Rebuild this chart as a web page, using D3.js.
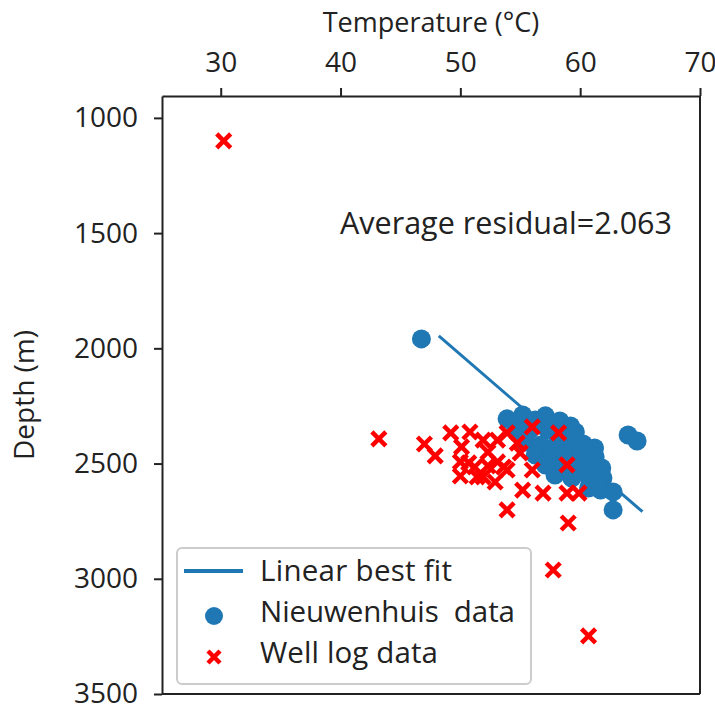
<!DOCTYPE html>
<html>
<head>
<meta charset="utf-8">
<script src="https://cdn.jsdelivr.net/npm/d3@7"></script>
<style>
  body { margin: 0; background: #fff; }
  svg text { font-family: "Open Sans", sans-serif; fill: #222; }
</style>
</head>
<body>
<svg id="chart" width="715" height="706"></svg>
<script>
// Nieuwenhuis data (temperature degC, depth m)
const nieuTemp = [46.75, 53.9, 55.2, 56.25, 57.1, 58.3, 59.2, 59.6, 54.6, 55.8, 57.3, 58.5,
  55.4, 56.7, 58.0, 59.2, 60.25, 61.2, 56.25, 57.5, 58.75, 60.0, 61.25, 57.1, 58.3, 59.8,
  61.0, 61.8, 57.9, 59.3, 60.8, 61.9, 60.7, 61.7, 62.75, 62.75, 64.0, 64.75, 61.5];
const nieuDepth = [1959, 2306, 2289, 2311, 2293, 2315, 2337, 2363, 2354, 2354, 2354, 2380,
  2406, 2419, 2419, 2419, 2415, 2432, 2463, 2476, 2463, 2463, 2471, 2506, 2519, 2519,
  2519, 2519, 2550, 2563, 2571, 2563, 2606, 2615, 2623, 2701, 2376, 2402, 2602];

// Well log data
const wellTemp = [30.25, 43.2, 47.0, 47.9, 49.2, 50.1, 50.0, 50.7, 51.2, 51.4, 51.9, 52.3,
  53.1, 52.9, 53.9, 53.9, 54.75, 55.0, 56.0, 56.0, 55.2, 56.9, 53.9, 58.2, 58.9, 58.9,
  59.9, 59.0, 57.75, 60.7, 51.9, 53.6, 50.8, 50.0, 53.1, 52.3];
const wellDepth = [1100, 2393, 2415, 2467, 2367, 2428, 2554, 2497, 2515, 2558, 2398, 2450,
  2398, 2580, 2367, 2528, 2411, 2454, 2341, 2528, 2615, 2628, 2701, 2367, 2506, 2628,
  2628, 2758, 2962, 3248, 2558, 2515, 2363, 2493, 2493, 2510];

// linear best fit end points
const fitTemp = [48.2, 65.2];
const fitDepth = [1946, 2709];

const xTicks = [30, 40, 50, 60, 70];
const yTicks = [1000, 1500, 2000, 2500, 3000, 3500];
const residual = "Average residual=2.063";

const blue = "#1f77b4";
const svg = d3.select("#chart");
const plotL = 162, plotR = 700, plotT = 96, plotB = 694;

const x = d3.scaleLinear().domain([25.1, 70]).range([plotL, plotR]);
const y = d3.scaleLinear().domain([905, 3500]).range([plotT, plotB]);

// fit line
svg.append("path")
    .datum(d3.zip(fitTemp, fitDepth))
    .attr("fill", "none")
    .attr("stroke", blue)
    .attr("stroke-width", 3)
    .attr("d", d3.line().x(d => x(d[0])).y(d => y(d[1])));

// circles
svg.append("g")
  .selectAll("circle")
  .data(d3.zip(nieuTemp, nieuDepth))
  .join("circle")
    .attr("cx", d => x(d[0]))
    .attr("cy", d => y(d[1]))
    .attr("r", 9.5)
    .attr("fill", blue);

// crosses
const cross = (g, s) => g.append("path")
    .attr("d", `M${-s},${-s}L${s},${s}M${-s},${s}L${s},${-s}`)
    .attr("stroke", "red")
    .attr("stroke-width", 4.5)
    .attr("fill", "none");

svg.append("g")
  .selectAll("g")
  .data(d3.zip(wellTemp, wellDepth))
  .join("g")
    .attr("transform", d => `translate(${x(d[0])},${y(d[1])})`)
    .each(function() { cross(d3.select(this), 7); });

// axes
const xAxis = svg.append("g")
    .attr("transform", `translate(0,${plotT})`)
    .call(d3.axisTop(x).tickValues(xTicks).tickFormat(d3.format("d"))
      .tickSize(8).tickPadding(16).tickSizeOuter(0));
const yAxis = svg.append("g")
    .attr("transform", `translate(${plotL},0)`)
    .call(d3.axisLeft(y).tickValues(yTicks).tickFormat(d3.format("d"))
      .tickSize(8).tickPadding(16).tickSizeOuter(0));

[xAxis, yAxis].forEach(a => {
  a.selectAll("text").attr("font-size", 28).attr("font-family", "Open Sans").attr("fill", "#222");
  a.selectAll("line").attr("stroke", "#222").attr("stroke-width", 2);
  a.select(".domain").attr("stroke", "#222").attr("stroke-width", 2);
});

// right and bottom spines
svg.append("line").attr("x1", plotR).attr("x2", plotR).attr("y1", plotT).attr("y2", plotB)
    .attr("stroke", "#222").attr("stroke-width", 2);
svg.append("line").attr("x1", plotL).attr("x2", plotR).attr("y1", plotB).attr("y2", plotB)
    .attr("stroke", "#222").attr("stroke-width", 2);

// axis labels
svg.append("text")
    .attr("x", (plotL + plotR) / 2)
    .attr("y", 32)
    .attr("text-anchor", "middle")
    .attr("font-size", 27)
    .text("Temperature (°C)");

svg.append("text")
    .attr("transform", `translate(34,${(plotT + plotB) / 2}) rotate(-90)`)
    .attr("text-anchor", "middle")
    .attr("font-size", 28)
    .text("Depth (m)");

svg.append("text")
    .attr("x", 340)
    .attr("y", 234)
    .attr("font-size", 30.5)
    .attr("textLength", 332)
    .text(residual);

// legend
const lg = svg.append("g");
lg.append("rect")
    .attr("x", 177).attr("y", 548)
    .attr("width", 354).attr("height", 136)
    .attr("rx", 5)
    .attr("fill", "white").attr("fill-opacity", 0.8)
    .attr("stroke", "#ccc").attr("stroke-width", 2);

const rows = [
  {label: "Linear best fit", kind: "line", w: 192},
  {label: "Nieuwenhuis\u00a0\u00a0data", kind: "circle", w: 255},
  {label: "Well log data", kind: "cross", w: 178}
];
rows.forEach((r, i) => {
  const cy = 571 + i * 41;
  if (r.kind === "line") {
    lg.append("line").attr("x1", 184).attr("x2", 243).attr("y1", cy).attr("y2", cy)
        .attr("stroke", blue).attr("stroke-width", 4);
  } else if (r.kind === "circle") {
    lg.append("circle").attr("cx", 214).attr("cy", cy + 4).attr("r", 9).attr("fill", blue);
  } else {
    cross(lg.append("g").attr("transform", `translate(214,${cy + 4})`), 6);
  }
  lg.append("text")
      .attr("x", 260)
      .attr("y", cy)
      .attr("dy", "0.35em")
      .attr("font-size", 29.5)
      .attr("textLength", r.w)
      .text(r.label);
});
</script>
</body>
</html>
